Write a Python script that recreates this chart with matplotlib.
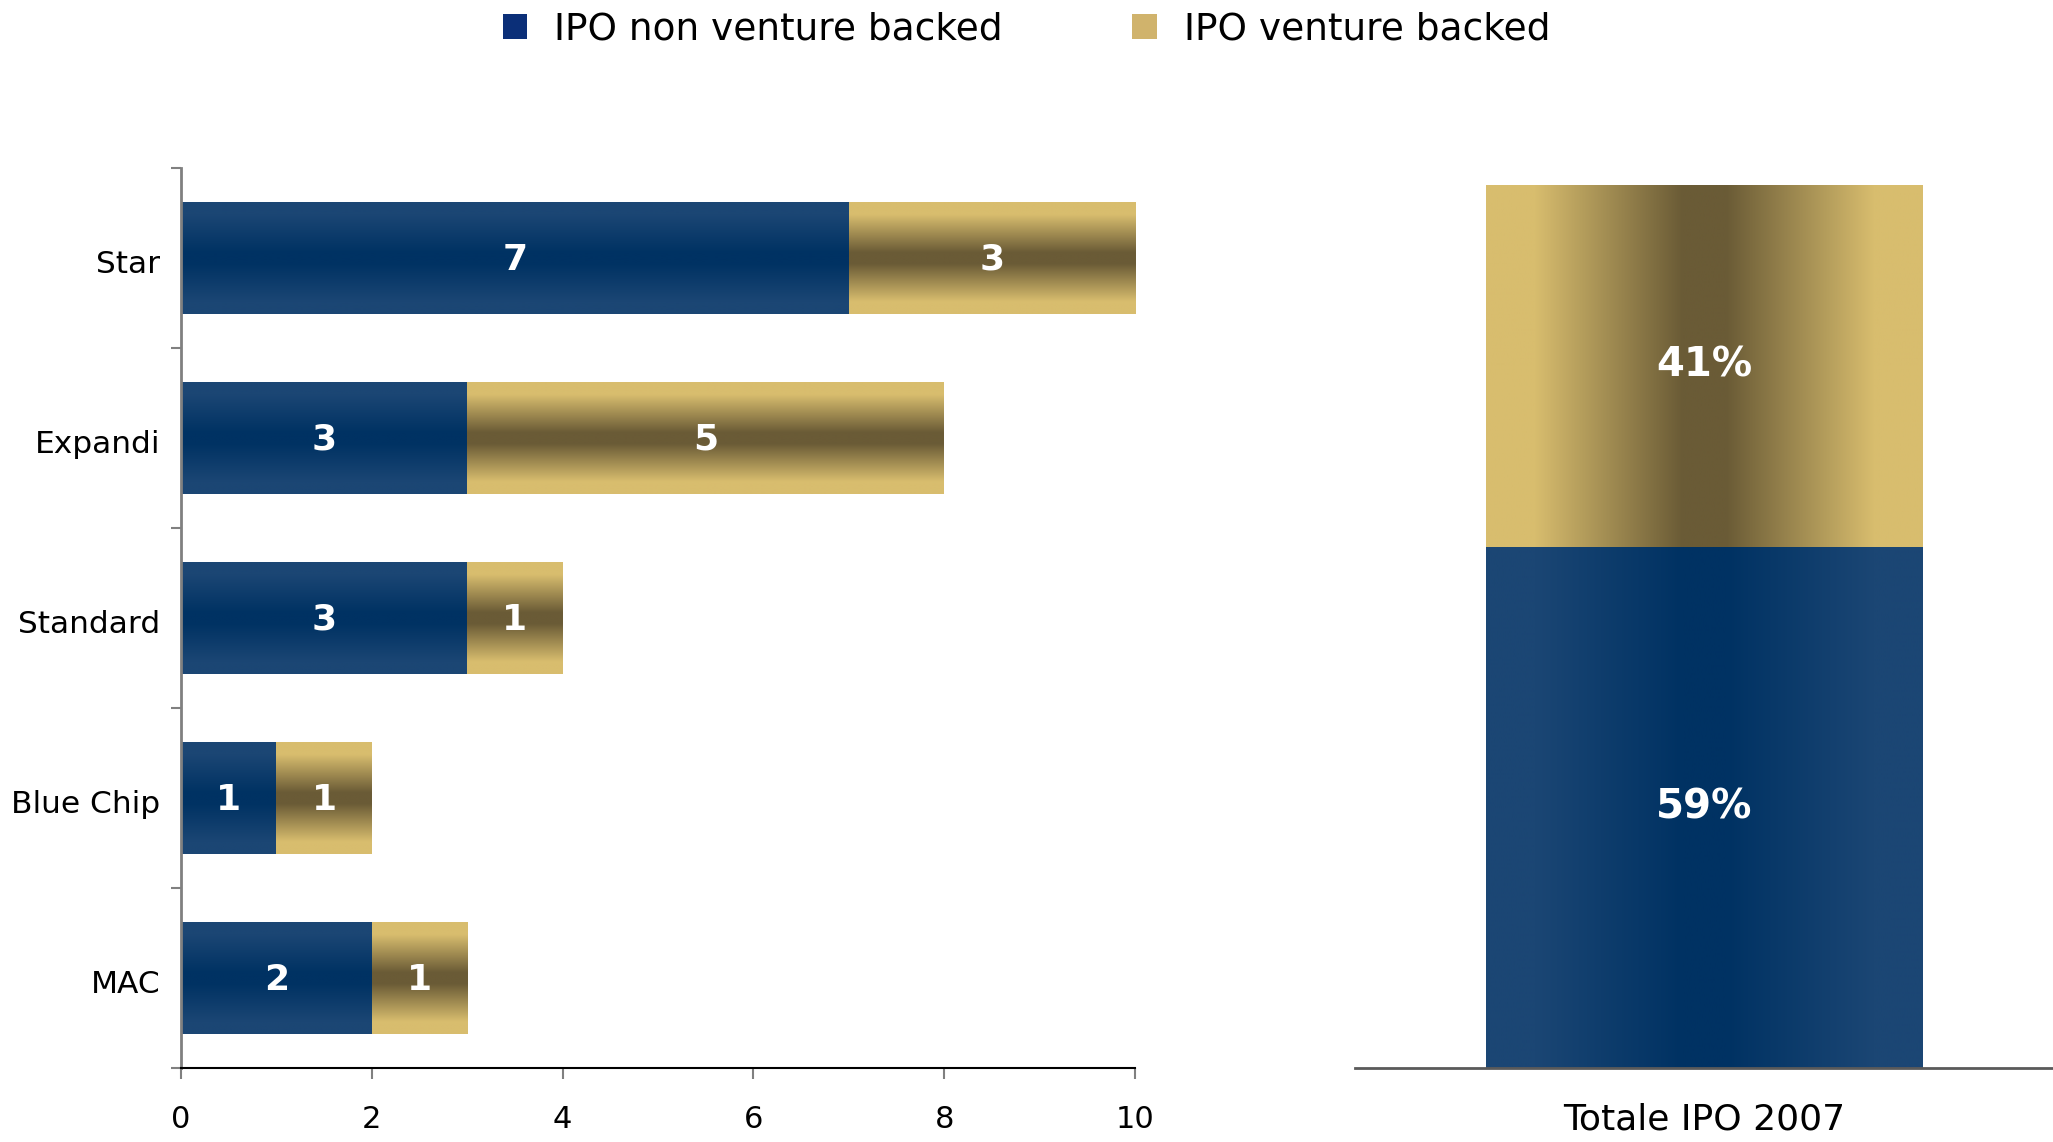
import numpy as np
import matplotlib
matplotlib.use("Agg")
import matplotlib.pyplot as plt
from matplotlib.colors import to_rgb
from matplotlib.patches import Patch

# data
markets = ["Star", "Expandi", "Standard", "Blue Chip", "MAC"]
non_venture = [7, 3, 3, 1, 2]
venture = [3, 5, 1, 1, 1]
total_share = [0.59, 0.41]          # non venture, venture (Totale IPO 2007)
total_labels = ["59%", "41%"]
total_cat = "Totale IPO 2007"
legend_names = ["IPO non venture backed", "IPO venture backed"]

BLUE_EDGE, BLUE_MID = "#1B4674", "#003263"
GOLD_EDGE, GOLD_MID = "#D8BD6E", "#6A5B36"
LEG_BLUE, LEG_GOLD = "#0B2F78", "#D0B36C"

plt.rcParams['font.family'] = ['DejaVu Sans']


def gradient_fill(ax, bar, edge, mid, vertical=True):
    # paint the bar with a gradient that is dark in the middle, light at edges
    x0, y0 = bar.get_x(), bar.get_y()
    w, h = bar.get_width(), bar.get_height()
    u = np.linspace(0, 1, 256)
    t = np.clip((np.abs(2 * u - 1) - 0.1) / 0.68, 0, 1)
    e, m = np.array(to_rgb(edge)), np.array(to_rgb(mid))
    cols = m + (e - m) * t[:, None]
    if vertical:
        img = cols[:, None, :]
    else:
        img = cols[None, :, :]
    im = ax.imshow(img, extent=(x0, x0 + w, y0, y0 + h), aspect="auto",
                   interpolation="bilinear", origin="lower", zorder=2)
    im.set_clip_path(bar)


fig = plt.figure(figsize=(20.53, 11.42), dpi=100)

# ---------- left: horizontal stacked bars ----------
ax = fig.add_axes([0.0882, 0.0648, 0.4646, 0.7881])
ypos = np.arange(len(markets))
b1 = ax.barh(ypos, non_venture, height=0.62, color="none", edgecolor="none")
b2 = ax.barh(ypos, venture, left=non_venture, height=0.62, color="none",
             edgecolor="none")
for bar in b1:
    gradient_fill(ax, bar, BLUE_EDGE, BLUE_MID, vertical=True)
for bar in b2:
    gradient_fill(ax, bar, GOLD_EDGE, GOLD_MID, vertical=True)
for i in range(len(markets)):
    ax.text(non_venture[i] / 2, ypos[i] + 0.01, str(non_venture[i]),
            ha="center", va="center", color="white", fontsize=26,
            fontweight="bold", zorder=3)
    ax.text(non_venture[i] + venture[i] / 2, ypos[i] + 0.01, str(venture[i]),
            ha="center", va="center", color="white", fontsize=26,
            fontweight="bold", zorder=3)

ax.set_xlim(0, 10)
ax.set_ylim(len(markets) - 0.5, -0.5)
ax.set_yticks(ypos + 0.02)
ax.set_yticklabels(markets, fontsize=22.5)
ax.set_yticks(np.arange(-0.5, len(markets)), minor=True)
ax.tick_params(axis="y", which="major", length=0, pad=15)
ax.tick_params(axis="y", which="minor", length=7, color="#808080", width=1.5)
ax.set_xticks(np.arange(0, 11, 2))
ax.tick_params(axis="x", labelsize=22, length=8, color="#808080", width=1.5,
               pad=19)
for s in ["top", "right"]:
    ax.spines[s].set_visible(False)
ax.spines["left"].set_color("#808080")
ax.spines["left"].set_linewidth(2)
ax.spines["bottom"].set_color("black")
ax.spines["bottom"].set_linewidth(1.5)

# ---------- right: total stacked column ----------
ax2 = fig.add_axes([0.660, 0.0648, 0.340, 0.7881])
c1 = ax2.bar([0], [total_share[0]], width=0.626, color="none", edgecolor="none")
c2 = ax2.bar([0], [total_share[1]], bottom=[total_share[0]], width=0.626,
             color="none", edgecolor="none")
gradient_fill(ax2, c1[0], BLUE_EDGE, BLUE_MID, vertical=False)
gradient_fill(ax2, c2[0], GOLD_EDGE, GOLD_MID, vertical=False)
ax2.text(0, total_share[0] / 2, total_labels[0], ha="center", va="center",
         color="white", fontsize=29, fontweight="bold", zorder=3)
ax2.text(0, total_share[0] + total_share[1] / 2, total_labels[1], ha="center",
         va="center", color="white", fontsize=29, fontweight="bold", zorder=3)
ax2.set_xlim(-0.5, 0.5)
ax2.set_ylim(0, 1.0188)
ax2.set_yticks([])
ax2.set_xticks([0])
ax2.set_xticklabels([total_cat], fontsize=26)
ax2.tick_params(axis="x", length=0, pad=25)
for s in ["top", "right", "left"]:
    ax2.spines[s].set_visible(False)
ax2.spines["bottom"].set_color("#5a5a5a")
ax2.spines["bottom"].set_linewidth(2)

# ---------- legend ----------
handles = [Patch(facecolor=LEG_BLUE, edgecolor="none"),
           Patch(facecolor=LEG_GOLD, edgecolor="none")]
fig.legend(handles, legend_names, loc="center", bbox_to_anchor=(0.5, 0.974),
           ncol=2, frameon=False, fontsize=27, handlelength=0.65,
           handleheight=0.65, handletextpad=0.73, columnspacing=3.45)

fig.savefig("out.png", dpi=100)
